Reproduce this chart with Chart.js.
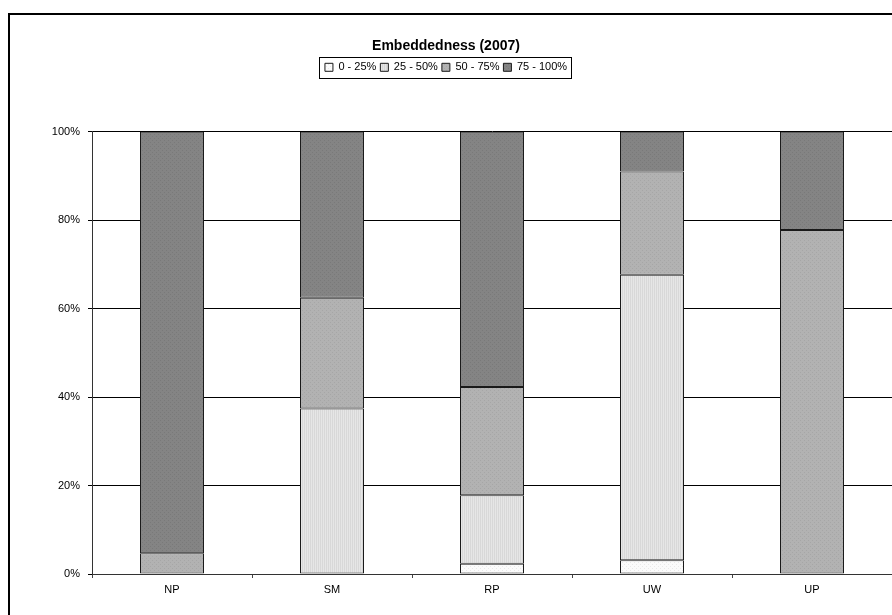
<!DOCTYPE html>
<html>
<head>
<meta charset="utf-8">
<title>Embeddedness (2007)</title>
<script src="https://cdn.jsdelivr.net/npm/chart.js@4/dist/chart.umd.min.js"></script>
<style>
  html, body { margin: 0; padding: 0; background: #fff; }
  #wrap { position: relative; width: 892px; height: 615px; }
</style>
</head>
<body>
<div id="wrap"><canvas id="chart" width="892" height="615"></canvas></div>
<script>
const categories = ['NP', 'SM', 'RP', 'UW', 'UP'];
const seriesNames = ['0 - 25%', '25 - 50%', '50 - 75%', '75 - 100%'];
const share0to25 = [0, 0, 2.3, 3.1, 0];
const share25to50 = [0, 37.4, 15.5, 64.6, 0];
const share50to75 = [4.7, 25.1, 24.5, 23.3, 77.8];
const share75to100 = [95.3, 37.5, 57.7, 9.0, 22.2];
const yTicks = [0, 20, 40, 60, 80, 100];

const FONT = '"Liberation Sans", Arial, sans-serif';

// small textured fills, like the old spreadsheet patterns
function makePattern(base, mark, kind) {
  const c = document.createElement('canvas');
  c.width = 4; c.height = 4;
  const g = c.getContext('2d');
  g.fillStyle = base;
  g.fillRect(0, 0, 4, 4);
  g.fillStyle = mark;
  if (kind === 'lines') {
    g.fillRect(0, 0, 1, 4);
    g.fillRect(2, 0, 1, 4);
  } else {
    g.fillRect(0, 0, 1, 1);
    g.fillRect(2, 2, 1, 1);
  }
  return g.createPattern(c, 'repeat');
}

const fills = [
  makePattern('#fbfbfb', '#e9e9e9', 'dots'),
  makePattern('#e6e6e6', '#d8d8d8', 'lines'),
  makePattern('#b2b2b2', '#a6a6a6', 'dots'),
  makePattern('#848484', '#797979', 'dots')
];

const seriesValues = [share0to25, share25to50, share50to75, share75to100];

const framePlugin = {
  id: 'frame',
  beforeDraw(chart) {
    const ctx = chart.ctx;
    ctx.save();
    ctx.fillStyle = '#fff';
    ctx.fillRect(0, 0, chart.width, chart.height);
    ctx.strokeStyle = '#000';
    ctx.lineWidth = 2;
    ctx.beginPath();
    ctx.moveTo(9, chart.height);
    ctx.lineTo(9, 14);
    ctx.lineTo(chart.width, 14);
    ctx.stroke();
    ctx.restore();
  },
  afterDraw(chart) {
    // box round the legend
    const boxes = chart.legend.legendHitBoxes;
    if (!boxes || !boxes.length) return;
    const left = Math.min(...boxes.map(b => b.left)) - 6;
    const right = Math.max(...boxes.map(b => b.left + b.width)) + 4;
    const top = Math.min(...boxes.map(b => b.top)) - 5;
    const bottom = Math.max(...boxes.map(b => b.top + b.height)) + 5;
    const ctx = chart.ctx;
    ctx.save();
    ctx.strokeStyle = '#000';
    ctx.lineWidth = 1;
    ctx.strokeRect(Math.round(left) + 0.5, Math.round(top) + 0.5,
      Math.round(right - left), Math.round(bottom - top));
    ctx.restore();
  }
};

const ctx = document.getElementById('chart').getContext('2d');
new Chart(ctx, {
  type: 'bar',
  data: {
    labels: categories,
    datasets: seriesNames.map((name, i) => ({
      label: name,
      data: seriesValues[i],
      backgroundColor: fills[i],
      borderColor: '#1a1a1a',
      borderWidth: 1,
      borderSkipped: false,
      categoryPercentage: 1,
      barPercentage: 0.4
    }))
  },
  options: {
    responsive: false,
    animation: false,
    layout: { padding: { left: 0, right: 0, top: 0, bottom: 0 } },
    plugins: {
      title: {
        display: true,
        text: 'Embeddedness (2007)',
        color: '#000',
        font: { family: FONT, size: 14, weight: 'bold' },
        padding: { top: 38, bottom: 3 }
      },
      legend: {
        display: true,
        position: 'top',
        labels: {
          color: '#000',
          font: { family: FONT, size: 11 },
          boxWidth: 8,
          boxHeight: 8,
          padding: 4
        }
      },
      subtitle: {
        display: true,
        text: '',
        weight: 500,
        font: { size: 10, lineHeight: 1 },
        padding: { top: 39, bottom: 0 }
      },
      tooltip: { enabled: false }
    },
    scales: {
      x: {
        stacked: true,
        grid: { offset: true, drawOnChartArea: false, drawTicks: true, tickLength: 4, color: '#444' },
        border: { display: true, color: '#333', width: 1 },
        ticks: { color: '#000', font: { family: FONT, size: 11 }, padding: 5 },
        afterFit(scale) { scale.height = 41; }
      },
      y: {
        stacked: true,
        min: 0,
        max: 100,
        afterBuildTicks(scale) { scale.ticks = yTicks.map(v => ({ value: v })); },
        grid: { color: '#000', lineWidth: 1, tickLength: 4 },
        border: { display: true, color: '#333', width: 1 },
        ticks: {
          color: '#000',
          font: { family: FONT, size: 11 },
          padding: 8,
          callback: v => v + '%'
        },
        afterFit(scale) { scale.width = 92; }
      }
    }
  },
  plugins: [framePlugin]
});
</script>
</body>
</html>
